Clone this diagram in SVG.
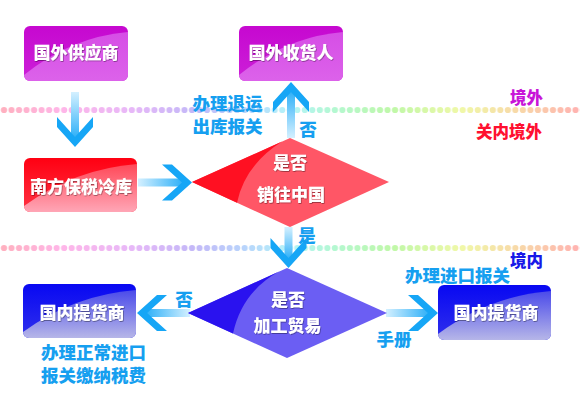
<svg xmlns="http://www.w3.org/2000/svg" width="580" height="400" viewBox="0 0 580 400">
<defs>
<style>
text{font-family:"Noto Sans CJK SC","Noto Sans",sans-serif;font-weight:900;}
.nt{fill:#fff;font-size:17px;text-anchor:middle;filter:url(#sh);}
.lb{fill:#169ff0;font-size:17.5px;text-anchor:middle;}
.zone{font-size:16.5px;text-anchor:middle;}
.head{fill:#16a6f6;}
</style>
<filter id="sh" x="-10%" y="-20%" width="120%" height="150%">
<feDropShadow dx="0.6" dy="0.8" stdDeviation="0.5" flood-color="#000" flood-opacity="0.45"/>
</filter>
<linearGradient id="rainbow" gradientUnits="userSpaceOnUse" x1="4" y1="0" x2="576" y2="0">
<stop offset="0" stop-color="#ffb0c0"/>
<stop offset="0.1" stop-color="#ffb6e8"/>
<stop offset="0.22" stop-color="#e8b8f8"/>
<stop offset="0.33" stop-color="#c4b8f8"/>
<stop offset="0.42" stop-color="#b8d4fc"/>
<stop offset="0.5" stop-color="#b4f4f8"/>
<stop offset="0.58" stop-color="#b4f8d0"/>
<stop offset="0.68" stop-color="#c0f8a8"/>
<stop offset="0.8" stop-color="#f0f8a8"/>
<stop offset="0.9" stop-color="#f8d8a8"/>
<stop offset="1" stop-color="#ffb4b0"/>
</linearGradient>
<pattern id="dotpat" patternUnits="userSpaceOnUse" x="0.24" y="0" width="7.52" height="20">
<circle cx="3.76" cy="10" r="3.1" fill="#fff"/>
</pattern>
<mask id="dotmask1" maskUnits="userSpaceOnUse" x="0" y="105" width="580" height="20">
<rect x="0" y="105.5" width="580" height="20" fill="url(#dotpat)"/>
</mask>
<pattern id="dotpat2" patternUnits="userSpaceOnUse" x="0.24" y="238" width="7.52" height="20">
<circle cx="3.76" cy="10" r="3.1" fill="#fff"/>
</pattern>
<mask id="dotmask2" maskUnits="userSpaceOnUse" x="0" y="238" width="580" height="20">
<rect x="0" y="238" width="580" height="20" fill="url(#dotpat2)"/>
</mask>
<linearGradient id="shaft" x1="0" y1="0" x2="1" y2="0">
<stop offset="0" stop-color="#d4f0ff"/>
<stop offset="1" stop-color="#2eb0f8"/>
</linearGradient>
<linearGradient id="purD" x1="0" y1="0" x2="0" y2="1"><stop offset="0" stop-color="#c608d0"/><stop offset="1" stop-color="#cc20d8"/></linearGradient>
<linearGradient id="purL" x1="0" y1="0" x2="0" y2="1"><stop offset="0" stop-color="#d64ee6"/><stop offset="1" stop-color="#dc62ea"/></linearGradient>
<linearGradient id="redD" x1="0" y1="0" x2="0" y2="1"><stop offset="0" stop-color="#ff0012"/><stop offset="1" stop-color="#ff3444"/></linearGradient>
<linearGradient id="redL" x1="0" y1="0" x2="0" y2="1"><stop offset="0" stop-color="#ff4858"/><stop offset="1" stop-color="#ffa6b6"/></linearGradient>
<linearGradient id="bluD" x1="0" y1="0" x2="0" y2="1"><stop offset="0" stop-color="#0808f2"/><stop offset="1" stop-color="#3030ec"/></linearGradient>
<linearGradient id="bluL" x1="0" y1="0" x2="0" y2="1"><stop offset="0" stop-color="#4a4aea"/><stop offset="1" stop-color="#b6b6e8"/></linearGradient>
<path id="ahead" d="M-30,-18 L-20,-18 L0,0 L-20,18 L-30,18 L-10,0 Z"/>
</defs>

<rect width="580" height="400" fill="#fff"/>

<g id="zones">
<rect x="0" y="105" width="580" height="21" fill="url(#rainbow)" mask="url(#dotmask1)"/>
<rect x="0" y="238" width="580" height="20" fill="url(#rainbow)" mask="url(#dotmask2)"/>
<text class="zone" x="526.5" y="104" fill="#c814d8">境外</text>
<text class="zone" x="509" y="138" fill="#ff1030">关内境外</text>
<text class="zone" x="526.5" y="267" fill="#1818e8">境内</text>
</g>

<g id="connectors">
<g transform="translate(75,147) rotate(90)"><rect x="-55" y="-4" width="46" height="8" fill="url(#shaft)"/><use href="#ahead" class="head"/></g>
<g transform="translate(192,182.5) rotate(0)"><rect x="-54" y="-4" width="45" height="8" fill="url(#shaft)"/><use href="#ahead" class="head"/></g>
<g transform="translate(291,82) rotate(-90)"><rect x="-56" y="-4" width="47" height="8" fill="url(#shaft)"/><use href="#ahead" class="head"/></g>
<g transform="translate(288.5,268) rotate(90)"><rect x="-41" y="-4" width="32" height="8" fill="url(#shaft)"/><use href="#ahead" class="head"/></g>
<g transform="translate(137,313) rotate(180)"><rect x="-53" y="-4" width="44" height="8" fill="url(#shaft)"/><use href="#ahead" class="head"/></g>
<g transform="translate(438,313) rotate(0)"><rect x="-52" y="-4" width="43" height="8" fill="url(#shaft)"/><use href="#ahead" class="head"/></g>
<text class="lb" x="227.5" y="110">办理退运</text>
<text class="lb" x="227.5" y="133">出库报关</text>
<text class="lb" x="308" y="136">否</text>
<text class="lb" x="307" y="242">是</text>
<text class="lb" x="184" y="306">否</text>
<text class="lb" x="394" y="346">手册</text>
<text class="lb" x="457.5" y="282">办理进口报关</text>
<text class="lb" x="93.5" y="359">办理正常进口</text>
<text class="lb" x="93.5" y="382">报关缴纳税费</text>
</g>

<g id="supplier">
<rect x="24" y="26" width="104" height="55" rx="6" fill="url(#purD)"/>
<path d="M24,75 Q70.8,37 128,32 L128,75 A6,6 0 0 1 122,81 L30,81 A6,6 0 0 1 24,75 Z" fill="url(#purL)"/>
<text class="nt" x="76" y="59">国外供应商</text>
</g>

<g id="receiver">
<rect x="239" y="26" width="104" height="55" rx="6" fill="url(#purD)"/>
<path d="M239,75 Q285.8,37 343,32 L343,75 A6,6 0 0 1 337,81 L245,81 A6,6 0 0 1 239,75 Z" fill="url(#purL)"/>
<text class="nt" x="291" y="59">国外收货人</text>
</g>

<g id="coldstore">
<rect x="24" y="158" width="113" height="54" rx="6" fill="url(#redD)"/>
<path d="M24,206 Q74.9,168.8 137,164 L137,206 A6,6 0 0 1 131,212 L30,212 A6,6 0 0 1 24,206 Z" fill="url(#redL)"/>
<text class="nt" x="81" y="193">南方保税冷库</text>
</g>

<g id="decision-china">
<polygon points="192,182 290,138 389,182 290,227" fill="#ff5666"/>
<path d="M192,182 L282,141.6 Q245,165 237,202.7 Z" fill="#ff1022"/>
<text class="nt" x="290" y="169">是否</text>
<text class="nt" x="291" y="201">销往中国</text>
</g>

<g id="decision-processing">
<polygon points="188,313 287,268 387,313 287,358" fill="#6b5ef3"/>
<path d="M188,313 L279,271.6 Q242,292 233,333.5 Z" fill="#2a12ef"/>
<text class="nt" x="288" y="306">是否</text>
<text class="nt" x="287.5" y="332">加工贸易</text>
</g>

<g id="buyer-left">
<rect x="23" y="284" width="113" height="54" rx="6" fill="url(#bluD)"/>
<path d="M23,332 Q73.9,294.8 136,290 L136,332 A6,6 0 0 1 130,338 L29,338 A6,6 0 0 1 23,332 Z" fill="url(#bluL)"/>
<text class="nt" x="82" y="319">国内提货商</text>
</g>

<g id="buyer-right">
<rect x="438" y="285" width="113" height="55" rx="6" fill="url(#bluD)"/>
<path d="M438,334 Q488.9,296 551,291 L551,334 A6,6 0 0 1 545,340 L444,340 A6,6 0 0 1 438,334 Z" fill="url(#bluL)"/>
<text class="nt" x="496" y="319">国内提货商</text>
</g>
</svg>
